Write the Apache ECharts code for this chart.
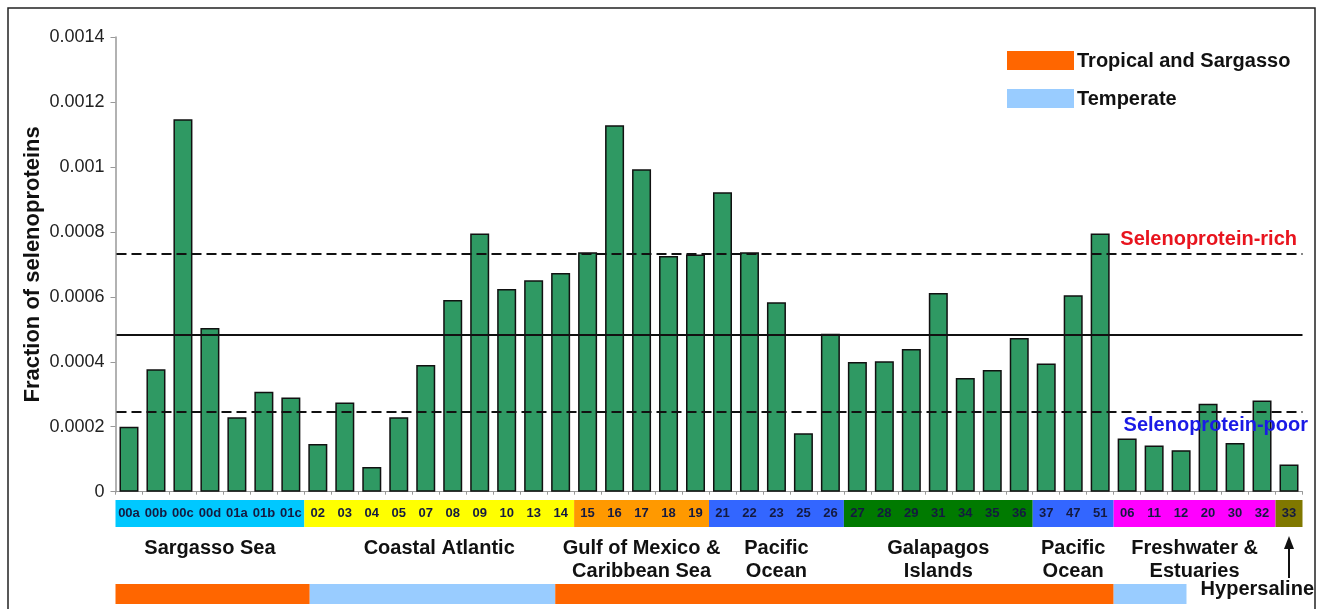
<!DOCTYPE html>
<html>
<head>
<meta charset="utf-8">
<script src="https://cdn.jsdelivr.net/npm/echarts@6/dist/echarts.min.js"></script>
<style>
  html, body { margin: 0; padding: 0; background: #fff; }
  #chart { width: 1324px; height: 609px; }
</style>
</head>
<body>
<div id="chart"></div>
<script>
// Sampling sites (GOS sample codes), in plotting order
const categories = ['00a','00b','00c','00d','01a','01b','01c',
  '02','03','04','05','07','08','09','10','13','14',
  '15','16','17','18','19',
  '21','22','23','25','26',
  '27','28','29','31','34','35','36',
  '37','47','51',
  '06','11','12','20','30','32',
  '33'];

// Fraction of selenoproteins per site
const selenoFraction = [0.000200,0.000377,0.001147,0.000504,0.000229,0.000308,0.000290,
  0.000147,0.000275,0.000076,0.000229,0.000390,0.000590,0.000795,0.000624,0.000651,0.000673,
  0.000737,0.001128,0.000993,0.000726,0.000730,
  0.000922,0.000737,0.000583,0.000180,0.000486,
  0.000399,0.000402,0.000439,0.000612,0.000350,0.000375,0.000473,
  0.000395,0.000605,0.000795,
  0.000164,0.000142,0.000128,0.000271,0.000150,0.000281,
  0.000084];

// Reference levels
const richThreshold = 0.000733;
const meanFraction = 0.000482;
const poorThreshold = 0.000244;
const levelNames = ['Selenoprotein-rich', 'Selenoprotein-poor'];

// Y axis ticks
const yTicks = [0, 0.0002, 0.0004, 0.0006, 0.0008, 0.001, 0.0012, 0.0014];

// Site groups (number of consecutive sites in each) and their names
const siteGroupSizes = [7, 10, 5, 5, 7, 3, 6, 1];
const siteGroupNames = ['Sargasso Sea', 'Coastal Atlantic', 'Gulf of Mexico &\nCaribbean Sea',
  'Pacific\nOcean', 'Galapagos\nIslands', 'Pacific\nOcean', 'Freshwater &\nEstuaries', 'Hypersaline'];

// Climate zones along the site axis, in category units
const climateNames = ['Tropical and Sargasso', 'Temperate'];
const climateFrom = [0, 7.2, 16.3, 37];
const climateTo = [7.2, 16.3, 37, 39.7];
const climateZone = [0, 1, 0, 1];

// Styling
const FONT = '"Liberation Sans", Arial, Helvetica, sans-serif';
const groupFill = ['#00c8ff', '#ffff00', '#ff9900', '#3366ff', '#007a00', '#3366ff', '#ff00ff', '#807800'];
const climateFill = ['#ff6600', '#99ccff'];
const BAR = '#2f9963';

const chart = echarts.init(document.getElementById('chart'));

chart.setOption({
  animation: false,
  backgroundColor: '#fff',
  grid: { left: 115.5, right: 21.5, top: 37, bottom: 117.3, containLabel: false },
  xAxis: {
    type: 'category',
    data: categories,
    axisLine: { show: true, lineStyle: { color: '#999', width: 1 } },
    axisTick: { show: true, length: 3, lineStyle: { color: '#999' } },
    axisLabel: {
      interval: 0, margin: 22, fontFamily: FONT, fontSize: 13, fontWeight: 'bold',
      color: '#141a40', verticalAlign: 'middle', hideOverlap: false
    }
  },
  yAxis: {
    type: 'value',
    min: yTicks[0], max: yTicks[yTicks.length - 1], interval: 0.0002,
    name: 'Fraction of selenoproteins',
    nameLocation: 'middle', nameGap: 72, nameMoveOverlap: false,
    nameTextStyle: { fontFamily: FONT, fontSize: 22, fontWeight: 'bold', color: '#111' },
    axisLine: { show: true, lineStyle: { color: '#999', width: 1.5 } },
    axisTick: { show: true, inside: false, length: 5, lineStyle: { color: '#999' } },
    splitLine: { show: false },
    axisLabel: {
      margin: 11, fontFamily: FONT, fontSize: 18, color: '#222',
      formatter: v => String(+v.toFixed(4))
    }
  },
  series: [{
    type: 'bar',
    data: selenoFraction,
    barWidth: 19,
    z: 2,
    itemStyle: { color: BAR, borderColor: '#111', borderWidth: 1.5 }
  }]
});

// Decorations positioned from the chart's axes
function drawDecorations() {
  const c0 = chart.convertToPixel({ xAxisIndex: 0 }, 0);
  const c1 = chart.convertToPixel({ xAxisIndex: 0 }, 1);
  const band = c1 - c0;
  const edge = f => c0 - band / 2 + f * band;
  const yPx = v => chart.convertToPixel({ yAxisIndex: 0 }, v);
  const xL = edge(0) + 1, xR = edge(categories.length);
  const elements = [];

  // Outer frame
  elements.push({ type: 'rect', shape: { x: 8, y: 8, width: 1307, height: 640 },
    style: { fill: 'none', stroke: '#222', lineWidth: 1.5 }, z: 0 });

  // Reference levels across the plot
  [[richThreshold, [10, 5]], [meanFraction, null], [poorThreshold, [10, 5]]].forEach(([v, dash]) => {
    const y = Math.round(yPx(v));
    elements.push({ type: 'line', z: 10, shape: { x1: xL, y1: y, x2: xR, y2: y },
      style: { stroke: '#111', lineWidth: 2, lineDash: dash } });
  });
  elements.push({ type: 'text', z: 11, x: 1297, y: yPx(richThreshold) - 14,
    style: { text: levelNames[0], font: 'bold 20px ' + FONT, fill: '#e8141e',
             textAlign: 'right', textVerticalAlign: 'middle' } });
  elements.push({ type: 'text', z: 11, x: 1308, y: yPx(poorThreshold) + 13,
    style: { text: levelNames[1], font: 'bold 20px ' + FONT, fill: '#1a1ae6',
             textAlign: 'right', textVerticalAlign: 'middle' } });

  // Coloured site-group strip under the axis
  let start = 0;
  siteGroupSizes.forEach((n, g) => {
    const x0 = edge(start), x1 = edge(start + n);
    elements.push({ type: 'rect', z: -1, shape: { x: x0, y: 500, width: x1 - x0, height: 27 },
      style: { fill: groupFill[g] } });
    if (g < siteGroupSizes.length - 1) {
      elements.push({ type: 'text', z: 5, x: (x0 + x1) / 2, y: 537,
        style: { text: siteGroupNames[g], font: 'bold 20px ' + FONT, fill: '#111',
                 textAlign: 'center', textVerticalAlign: 'top', lineHeight: 23 } });
    }
    start += n;
  });

  // Climate strip
  climateFrom.forEach((f, i) => {
    const x0 = edge(f), x1 = edge(climateTo[i]);
    elements.push({ type: 'rect', shape: { x: x0, y: 584, width: x1 - x0, height: 20 },
      style: { fill: climateFill[climateZone[i]] } });
  });

  // Hypersaline site marker
  const last = siteGroupSizes.reduce((a, b) => a + b, 0) - 1;
  const ax = chart.convertToPixel({ xAxisIndex: 0 }, last);
  elements.push({ type: 'line', shape: { x1: ax, y1: 578, x2: ax, y2: 546 },
    style: { stroke: '#111', lineWidth: 2 } });
  elements.push({ type: 'polygon', shape: { points: [[ax - 5, 549], [ax + 5, 549], [ax, 536]] },
    style: { fill: '#111' } });
  elements.push({ type: 'text', x: 1314, y: 589,
    style: { text: siteGroupNames[siteGroupNames.length - 1], font: 'bold 20px ' + FONT, fill: '#111',
             textAlign: 'right', textVerticalAlign: 'middle' } });

  // Legend for climate zones
  climateNames.forEach((name, i) => {
    const y = i === 0 ? 51 : 89;
    elements.push({ type: 'rect', shape: { x: 1007, y: y, width: 67, height: 19 },
      style: { fill: climateFill[i] } });
    elements.push({ type: 'text', x: 1077, y: y + 10,
      style: { text: name, font: 'bold 20px ' + FONT, fill: '#111',
               textAlign: 'left', textVerticalAlign: 'middle' } });
  });

  chart.setOption({ graphic: { elements: elements } });
}

drawDecorations();
</script>
</body>
</html>
